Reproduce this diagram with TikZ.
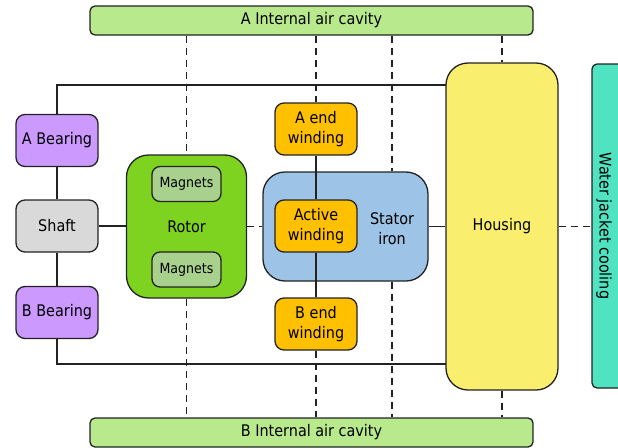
\documentclass[tikz,border=0pt]{standalone}
\usepackage{fontspec}
\setmainfont{DejaVu Sans Condensed}
\usetikzlibrary{positioning}

\definecolor{cavity}{RGB}{185,233,141}
\definecolor{bearing}{RGB}{204,153,255}
\definecolor{shaftgray}{RGB}{217,217,217}
\definecolor{rotorgreen}{RGB}{126,211,33}
\definecolor{magnet}{RGB}{169,209,142}
\definecolor{winding}{RGB}{255,192,0}
\definecolor{statorblue}{RGB}{157,195,230}
\definecolor{housingyellow}{RGB}{249,238,110}
\definecolor{jacket}{RGB}{80,227,194}
\definecolor{edge}{RGB}{34,34,34}

\begin{document}
\begin{tikzpicture}[x=1pt, y=-1pt,
    part/.style    = {draw=edge, line width=1.3pt, inner sep=0pt, align=center,
                      font=\fontsize{16}{20}\selectfont},
    cavitybox/.style = {part, fill=cavity, rounded corners=5pt,
                      minimum width=443pt, minimum height=29pt},
    small/.style   = {part, minimum width=82pt, minimum height=52pt, rounded corners=9pt},
    big/.style     = {part, rounded corners=22pt},
    magnetbox/.style = {part, fill=magnet, rounded corners=8pt, minimum width=69pt,
                      minimum height=35pt, font=\fontsize{14}{16}\selectfont},
    conduct/.style = {line width=1.5pt, draw=edge},
    airpath/.style = {conduct, dash pattern=on 7pt off 5pt}
  ]
  \useasboundingbox (0,0) rectangle (618,447);

  % air cavities at both ends
  \node[cavitybox] (cavA) at (311.5,20.5)  {A Internal air cavity};
  \node[cavitybox] (cavB) at (311.5,432.5) {B Internal air cavity};

  % shaft and bearings
  \node[small, fill=bearing]   (abear) at (57,140.5) {A Bearing};
  \node[small, fill=shaftgray] (shaft) at (57,226)   {Shaft};
  \node[small, fill=bearing]   (bbear) at (57,312.5) {B Bearing};

  % rotor with its magnets
  \node[big, fill=rotorgreen, minimum width=120pt, minimum height=143pt] (rotor) at (186.5,226.5) {Rotor};
  \node[magnetbox] (magA) at (186.5,184)   {Magnets};
  \node[magnetbox] (magB) at (186.5,269.5) {Magnets};

  % stator iron and windings
  \node[big, fill=statorblue, minimum width=165pt, minimum height=109pt] (stator) at (345.5,226.5) {};
  \node[part, draw=none] (statorlbl) at (392,229) {Stator\\iron};
  \node[small, fill=winding] (awind)   at (316,129) {A end\\winding};
  \node[small, fill=winding] (actwind) at (316,226) {Active\\winding};
  \node[small, fill=winding] (bwind)   at (316,324) {B end\\winding};

  % housing and cooling jacket
  \node[big, fill=housingyellow, minimum width=112pt, minimum height=327pt] (housing) at (502,226.5) {Housing};
  \node[part, fill=jacket, rounded corners=5pt, minimum width=34pt, minimum height=324pt] (jacket) at (609,226) {};
  \node[part, draw=none, rotate=-90] (jacketlbl) at (604,226) {Water jacket cooling};

  \coordinate (htop) at (446,85);
  \coordinate (hbot) at (446,364);

  % conduction paths
  \draw[conduct] (abear.north) |- (htop);
  \draw[conduct] (abear.south) -- (shaft.north);
  \draw[conduct] (shaft.south) -- (bbear.north);
  \draw[conduct] (bbear.south) |- (hbot);
  \draw[conduct] (shaft.east) -- (shaft.east -| rotor.west);
  \draw[conduct] (awind.south) -- (actwind.north);
  \draw[conduct] (actwind.south) -- (bwind.north);
  \draw[conduct] (stator.east) -- (stator.east -| housing.west);

  % convection paths
  \draw[airpath] (rotor.east) -- (rotor.east -| stator.west);
  \draw[airpath] (housing.east) -- (housing.east -| jacket.west);
  \draw[airpath] (cavA.south -| rotor.north) -- (rotor.north);
  \draw[airpath] (rotor.south) -- (rotor.south |- cavB.north);
  \draw[airpath] (cavA.south -| awind.north) -- (awind.north);
  \draw[airpath] (bwind.south) -- (bwind.south |- cavB.north);
  \draw[airpath] (cavA.south -| statorlbl) -- (statorlbl |- stator.north);
  \draw[airpath] (statorlbl |- stator.south) -- (statorlbl |- cavB.north);
  \draw[airpath] (cavA.south -| housing.north) -- (housing.north);
  \draw[airpath] (housing.south) -- (housing.south |- cavB.north);
\end{tikzpicture}
\end{document}
